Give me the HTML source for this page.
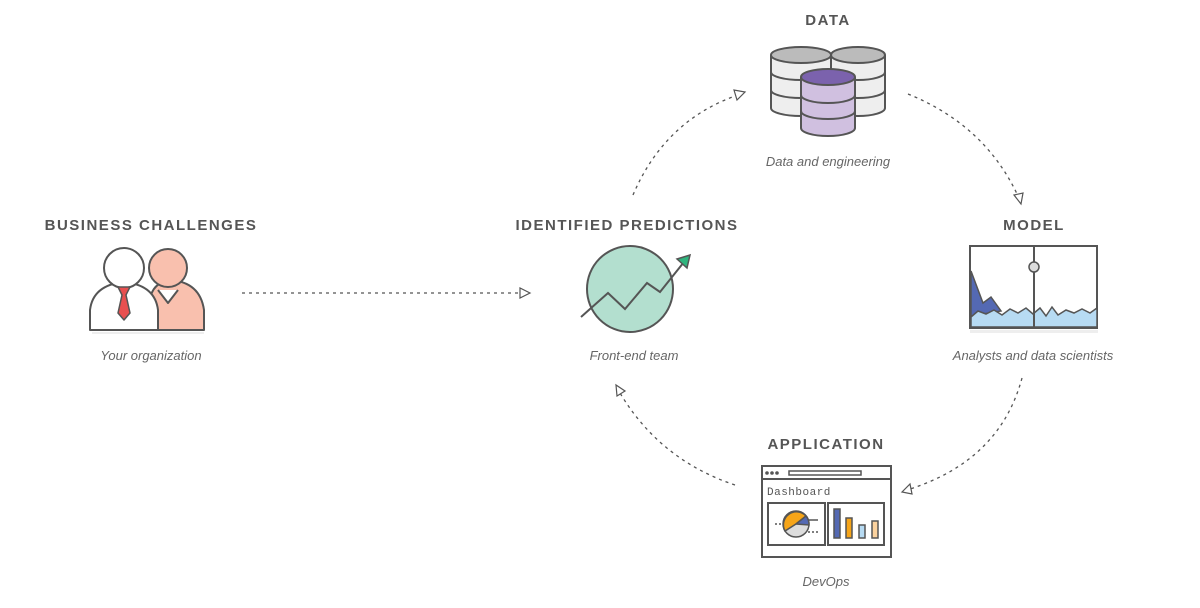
<!DOCTYPE html>
<html><head><style>
body{margin:0;background:#fff;}
svg text{font-family:"Liberation Sans",sans-serif;}
.t{font-size:15px;font-weight:bold;fill:#555;letter-spacing:1.5px;text-anchor:middle;}
.s{font-size:13px;font-style:italic;fill:#666;text-anchor:middle;}
.d{fill:none;stroke:#555;stroke-width:1.3;stroke-dasharray:3,4;}
.a{fill:#fff;stroke:#555;stroke-width:1.2;}
</style></head><body>
<svg width="1200" height="603" viewBox="0 0 1200 603">
<text class="t" x="151" y="230">BUSINESS CHALLENGES</text>
<text class="s" x="151" y="360">Your organization</text>
<text class="t" x="627" y="230">IDENTIFIED PREDICTIONS</text>
<text class="s" x="634" y="360">Front-end team</text>
<text class="t" x="828" y="25">DATA</text>
<text class="s" x="828" y="166">Data and engineering</text>
<text class="t" x="1034" y="230">MODEL</text>
<text class="s" x="1033" y="360">Analysts and data scientists</text>
<text class="t" x="826" y="449">APPLICATION</text>
<text class="s" x="826" y="586">DevOps</text>

<path class="d" d="M242 293 L524 293"/>
<path class="a" d="M530 293 L520 288 L520 298Z"/>
<path class="d" d="M633 195 Q665 120 738 95"/>
<path class="a" d="M745 92 L734 90 L737 100Z"/>
<path class="d" d="M908 94 Q985 125 1018 196"/>
<path class="a" d="M1021 204 L1014 195 L1023 193Z"/>
<path class="d" d="M1022 378 Q1000 460 910 489"/>
<path class="a" d="M902 492 L910 484 L912 494Z"/>
<path class="d" d="M735 485 Q660 460 620 393"/>
<path class="a" d="M616 385 L617 396 L625 391Z"/>

<g stroke="#555" stroke-width="2" stroke-linejoin="round">
<path d="M150 330 L150 300 Q152 283 170 280 Q200 282 204 310 L204 330Z" fill="#f9c0ae"/>
<circle cx="168" cy="268" r="19" fill="#f9c0ae"/>
<path d="M158 290 L168 303 L178 290" fill="#fff"/>
<path d="M90 330 L90 310 Q93 285 124 282 Q155 285 158 310 L158 330Z" fill="#fff"/>
<circle cx="124" cy="268" r="20" fill="#fff"/>
<path d="M118 287 L130 287 L126 295 L130 313 L124 320 L118 313 L122 295Z" fill="#e85050" stroke-width="1.5"/>
</g>
<rect x="92" y="332" width="112" height="2" fill="#eee"/>

<circle cx="630" cy="289" r="43" fill="#b3dfcf" stroke="#555" stroke-width="2"/>
<path d="M581 317 L608 293 L625 309 L647 283 L660 292 L684 262" fill="none" stroke="#555" stroke-width="2"/>
<path d="M677 259 L690 255 L687 268Z" fill="#2fb57e" stroke="#555" stroke-width="1.5"/>

<g stroke="#555" stroke-width="2">
<path d="M771 55 L771 108 A30 8 0 0 0 831 108 L831 55" fill="#eee"/>
<ellipse cx="801" cy="55" rx="30" ry="8" fill="#bbb"/>
<path d="M771 72 A30 8 0 0 0 831 72 M771 90 A30 8 0 0 0 831 90" fill="none"/>
<path d="M831 55 L831 108 A27 8 0 0 0 885 108 L885 55" fill="#eee"/>
<ellipse cx="858" cy="55" rx="27" ry="8" fill="#bbb"/>
<path d="M831 72 A27 8 0 0 0 885 72 M831 90 A27 8 0 0 0 885 90" fill="none"/>
<path d="M801 77 L801 128 A27 8 0 0 0 855 128 L855 77" fill="#d0c0e0"/>
<ellipse cx="828" cy="77" rx="27" ry="8" fill="#7b62ad"/>
<path d="M801 95 A27 8 0 0 0 855 95 M801 111 A27 8 0 0 0 855 111" fill="none"/>
</g>

<rect x="970" y="246" width="127" height="82" fill="#fff" stroke="#555" stroke-width="2"/>
<path d="M971 271 L983 303 L991 297 L1001 311 L971 316Z" fill="#5469b3" stroke="#555" stroke-width="1.5"/>
<path d="M971 317 L978 311 L986 314 L994 310 L1002 315 L1010 309 L1018 313 L1026 308 L1033 314 L1040 308 L1046 316 L1052 307 L1058 315 L1066 310 L1074 313 L1082 309 L1090 313 L1097 308 L1097 327 L971 327Z" fill="#b7dbf3" stroke="#555" stroke-width="1.5"/>
<line x1="1034" y1="246" x2="1034" y2="328" stroke="#555" stroke-width="2"/>
<circle cx="1034" cy="267" r="5" fill="#ddd" stroke="#555" stroke-width="1.5"/>
<rect x="970" y="330" width="128" height="3" fill="#eee"/>

<g stroke="#555" stroke-width="2">
<rect x="762" y="466" width="129" height="91" fill="#fff"/>
<line x1="762" y1="479" x2="891" y2="479"/>
<rect x="789" y="471" width="72" height="4" fill="#fff" stroke-width="1.5"/>
<rect x="768" y="503" width="57" height="42" fill="#fff"/>
<rect x="828" y="503" width="56" height="42" fill="#fff"/>
</g>
<circle cx="767" cy="473" r="1.8" fill="#555"/><circle cx="772" cy="473" r="1.8" fill="#555"/><circle cx="777" cy="473" r="1.8" fill="#555"/>
<text x="767" y="495" font-size="11" fill="#555" letter-spacing="0.5" style="font-family:'Liberation Mono',monospace">Dashboard</text>
<g stroke="#555" stroke-width="1.5">
<circle cx="796" cy="524" r="13" fill="#ddd"/>
<path d="M796 524 L785 531 A13 13 0 0 1 806 516Z" fill="#f6a519"/>
<path d="M796 524 L806 516 A13 13 0 0 1 809 525Z" fill="#5469b3"/>
<line x1="775" y1="524" x2="783" y2="524" stroke-dasharray="2,2"/>
<line x1="809" y1="520" x2="818" y2="520"/>
<line x1="808" y1="532" x2="818" y2="532" stroke-dasharray="2,2"/>
<rect x="834" y="509" width="6" height="29" fill="#5469b3"/>
<rect x="846" y="518" width="6" height="20" fill="#f6a519"/>
<rect x="859" y="525" width="6" height="13" fill="#b7dbf3"/>
<rect x="872" y="521" width="6" height="17" fill="#fbd29e"/>
</g>
</svg>
</body></html>
